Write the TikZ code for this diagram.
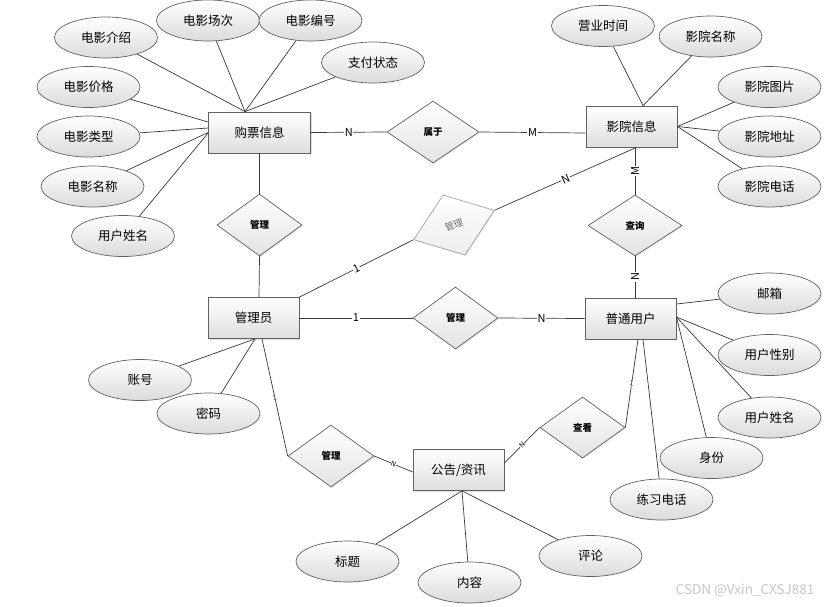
\documentclass[tikz,border=0pt]{standalone}
\usepackage{fontspec}
\newfontfamily\cjk{Noto Sans CJK SC}
\usetikzlibrary{shapes.geometric,shadows}
\begin{document}
\begin{tikzpicture}[x=1pt,y=-1pt,
  attr/.style={ellipse, draw=black!62, line width=0.7pt, top color=white, bottom color=black!14,
    minimum width=103pt, minimum height=41pt, inner sep=0pt, font=\cjk\fontsize{12.5}{14}\selectfont},
  ent/.style={rectangle, draw=black!62, line width=0.8pt, top color=white, bottom color=black!13,
    minimum width=91pt, minimum height=41pt, inner sep=0pt, font=\cjk\fontsize{12.5}{14}\selectfont,
    drop shadow={shadow xshift=1.2pt, shadow yshift=-1.2pt, opacity=0.25}},
  rel/.style={diamond, draw=black!62, line width=0.7pt, top color=white, bottom color=black!11,
    minimum width=86pt, minimum height=62pt, inner sep=0pt, font=\cjk\bfseries\fontsize{9.5}{11}\selectfont,
    drop shadow={shadow xshift=1pt, shadow yshift=-1pt, opacity=0.2}},
  faint/.style={draw=black!35, text=black!55, bottom color=black!7},
  link/.style={draw=black!78, line width=0.7pt},
  card/.style={font=\cjk\fontsize{11}{12}\selectfont, fill=white, inner sep=0.6pt},
  tick/.style={font=\cjk\fontsize{7}{8}\selectfont, fill=white, inner sep=0.3pt}
]
\fill[white] (0,0) rectangle (835,606);
\useasboundingbox (0,0) rectangle (835,606);

% entities
\node[ent, minimum width=102pt] (gp) at (259.5,132.5) {购票信息};
\node[ent] (yx) at (631.5,126.5) {影院信息};
\node[ent] (gly) at (253.5,318) {管理员};
\node[ent] (pt) at (630.5,318.5) {普通用户};
\node[ent] (gg) at (458.5,470) {公告/资讯};

% relationships
\node[rel, minimum width=92pt] (sy) at (433,132) {属于};
\node[rel, minimum width=85pt] (gl1) at (259.5,225) {管理};
\node[rel, faint, rotate=20, minimum height=64pt, font=\cjk\fontsize{9.5}{11}\selectfont] (gl2) at (454,225) {管理};
\node[rel, minimum width=94pt, minimum height=61pt] (cx) at (635,225.5) {查询};
\node[rel, minimum width=85pt] (gl3) at (455.5,318) {管理};
\node[rel] (gl4) at (331,456) {管理};
\node[rel, minimum width=85pt, minimum height=61pt] (ck) at (582.5,427.5) {查看};

% attributes of 购票信息
\node[attr] (a1) at (106,37.5) {电影介绍};
\node[attr] (a2) at (208,20.5) {电影场次};
\node[attr] (a3) at (310.5,20.5) {电影编号};
\node[attr] (a4) at (373,62.5) {支付状态};
\node[attr] (a5) at (88.5,87) {电影价格};
\node[attr] (a6) at (88.5,136.5) {电影类型};
\node[attr] (a7) at (92.5,186.5) {电影名称};
\node[attr] (a8) at (123,236) {用户姓名};
% attributes of 影院信息
\node[attr] (b1) at (603,26) {营业时间};
\node[attr] (b2) at (710.5,36.5) {影院名称};
\node[attr] (b3) at (769.5,87) {影院图片};
\node[attr] (b4) at (769.5,136.5) {影院地址};
\node[attr] (b5) at (769.5,186.5) {影院电话};
% attributes of 普通用户
\node[attr] (c1) at (769.5,293.5) {邮箱};
\node[attr] (c2) at (769.5,355) {用户性别};
\node[attr] (c3) at (769.5,417.5) {用户姓名};
\node[attr] (c4) at (711.5,458) {身份};
\node[attr] (c5) at (661.5,499.5) {练习电话};
% attributes of 管理员
\node[attr] (d1) at (140,380) {账号};
\node[attr] (d2) at (208.5,413.5) {密码};
% attributes of 公告/资讯
\node[attr] (e1) at (347.5,561.5) {标题};
\node[attr] (e2) at (469.5,582.5) {内容};
\node[attr] (e3) at (590.5,556) {评论};

% attribute links
\foreach \a in {a1,a2,a3,a4} \draw[link] (\a) -- ([xshift=-14.5pt]gp.north);
\draw[link] (a5) -- ([yshift=10.5pt]gp.west);
\draw[link] (a6) -- ([yshift=4.5pt]gp.west);
\draw[link] (a7) -- (gp.west);
\draw[link] (a8) -- ([yshift=-0.5pt]gp.west);
\foreach \b in {b1,b2} \draw[link] (\b) -- ([xshift=11.5pt]yx.north);
\foreach \b in {b3,b4,b5} \draw[link] (\b) -- (yx.east);
\draw[link] (c1) -- ([yshift=14.5pt]pt.east);
\foreach \c in {c2,c3,c4} \draw[link] (\c) -- ([yshift=1.5pt]pt.east);
\draw[link] (c5) -- ([xshift=12.5pt]pt.south);
\foreach \d in {d1,d2} \draw[link] (\d) -- ([xshift=1.5pt]gly.south);
\foreach \e in {e1,e2,e3} \draw[link] (\e) -- ([xshift=3.5pt]gg.south);

% relationship links
\draw[link] (gp.east) -- node[card] {N} (sy.west);
\draw[link] (sy.east) -- node[card] {M} ([yshift=-6.5pt]yx.west);
\draw[link] (gp.south) -- (gl1.north);
\draw[link] (gl1.south) -- ([xshift=5.5pt]gly.north);
\draw[link] (gly.north east) -- node[card, sloped] {1} (gl2.west);
\draw[link] (gl2.east) -- node[card, sloped, pos=0.5] {N} ([xshift=5pt]yx.south);
\draw[link] ([xshift=3.5pt]yx.south) -- node[card, rotate=90] {M} (cx.north);
\draw[link] (cx.south) -- node[card, rotate=90] {N} ([xshift=4.5pt]pt.north);
\draw[link] (gly.east) -- node[card, pos=0.5] {1} (gl3.west);
\draw[link] (gl3.east) -- node[card] {N} (pt.west);
\draw[link] ([xshift=8.5pt]gly.south) -- node[tick, rotate=12] {1} (gl4.west);
\draw[link] (gl4.east) -- node[tick, sloped] {N} ([yshift=-2pt]gg.west);
\draw[link] ([yshift=7pt]gg.east) -- node[tick, sloped] {N} (ck.west);
\draw[link] (ck.east) -- node[tick, rotate=-9] {1} ([xshift=7.5pt]pt.south);

% watermark
\node[font=\cjk\fontsize{13.5}{15}\selectfont, text=black!22] (wm) at (745,590) {CSDN @Vxin\_CXSJ881};
\end{tikzpicture}
\end{document}
